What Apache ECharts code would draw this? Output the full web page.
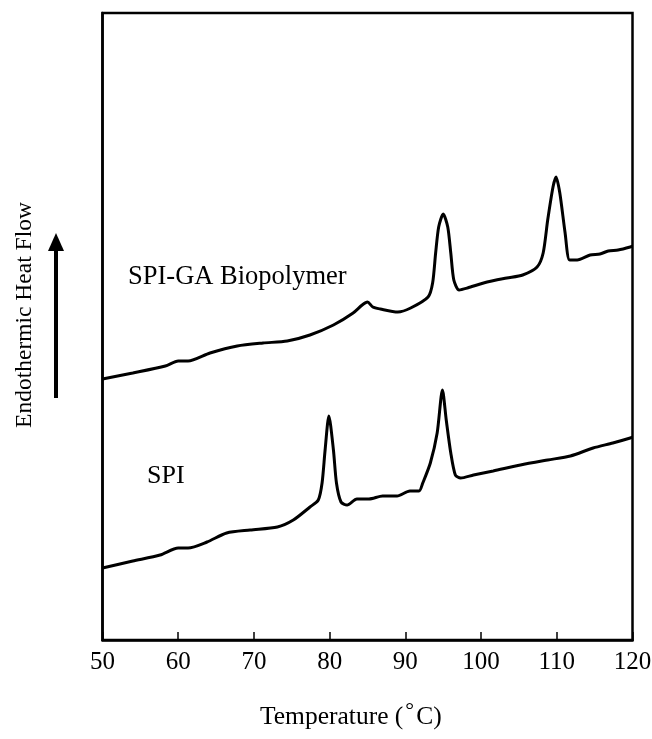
<!DOCTYPE html>
<html>
<head>
<meta charset="utf-8">
<script src="https://cdn.jsdelivr.net/npm/echarts@6/dist/echarts.min.js"></script>
<style>html,body{margin:0;padding:0;background:#fff}#c{width:652px;height:739px}</style>
</head>
<body>
<div id="c"></div>
<script>
// Temperature (°C) tick labels
var xTicks = [50, 60, 70, 80, 90, 100, 110, 120];

// SPI-GA Biopolymer curve: temperature / heat flow (arbitrary units)
var gaTemp = [50, 54.0, 58.3, 60.0, 61.3, 64.2, 67.8, 71.2, 74.4, 77.4, 80.5, 83.1, 84.3, 85.0, 85.7, 86.7, 89.0, 90.7, 93.0, 93.6, 94.0, 94.4, 95.0, 95.6, 96.0, 96.4, 97.1, 98.2, 100.8, 103.4, 105.5, 107.4, 108.2, 108.8, 109.5, 109.9, 110.4, 111.1, 111.7, 112.7, 114.4, 115.7, 116.8, 118.1, 119.7, 120];
var gaFlow = [261, 267, 274, 279, 279, 287, 294, 297, 299, 305, 315, 327, 335, 338, 333, 331, 328, 332, 343, 357, 387, 413, 426, 413, 387, 360, 350, 352, 358, 362, 365, 373, 387, 420, 453, 463, 447, 407, 380, 380, 385, 386, 389, 390, 393, 394];

// SPI curve
var spiTemp = [50, 54.0, 57.6, 60.0, 61.3, 63.8, 66.4, 69.5, 73.1, 75.2, 77.4, 78.5, 79.0, 79.4, 79.9, 80.5, 80.9, 81.5, 82.3, 83.6, 85.2, 87.0, 88.9, 90.6, 91.8, 92.3, 93.3, 94.2, 94.9, 95.4, 96.0, 96.6, 97.3, 99.0, 101.6, 105.2, 108.8, 111.8, 114.8, 117.4, 119.7, 120];
var spiFlow = [72, 79, 85, 92, 92, 98, 107, 110, 113, 120, 133, 140, 157, 190, 224, 190, 157, 138, 135, 141, 141, 144, 144, 149, 149, 157, 177, 207, 250, 220, 187, 165, 162, 165, 169, 175, 180, 184, 192, 197, 202, 203];

function pairs(xs, ys) { return xs.map(function (x, i) { return [x, ys[i]]; }); }

var chart = echarts.init(document.getElementById('c'));
var serif = '"Liberation Serif", "Times New Roman", serif';
chart.setOption({
  animation: false,
  backgroundColor: '#fff',
  grid: { left: 102.5, right: 19.5, top: 13, bottom: 99, show: true, borderColor: '#000', borderWidth: 2.5,
          containLabel: false, outerBoundsMode: 'none' },
  xAxis: {
    type: 'value', min: 50, max: 120, interval: 10,
    axisLine: { show: true, lineStyle: { color: '#000', width: 2.5 } },
    axisTick: { show: true, inside: true, length: 8, lineStyle: { color: '#000', width: 1.5 } },
    axisLabel: { color: '#000', fontFamily: serif, fontSize: 25, margin: 10,
      formatter: function (v) { return xTicks.indexOf(v) >= 0 ? String(v) : ''; } },
    splitLine: { show: false }
  },
  yAxis: {
    type: 'value', min: 0, max: 627,
    axisLine: { show: true, lineStyle: { color: '#000', width: 2.5 } },
    axisTick: { show: false }, axisLabel: { show: false }, splitLine: { show: false }
  },
  series: [
    { name: 'SPI-GA Biopolymer', type: 'line', data: pairs(gaTemp, gaFlow), showSymbol: false,
      smooth: 0.25, lineStyle: { color: '#000', width: 3 } },
    { name: 'SPI', type: 'line', data: pairs(spiTemp, spiFlow), showSymbol: false,
      smooth: 0.25, lineStyle: { color: '#000', width: 3 } }
  ],
  graphic: [
    { type: 'text', left: 128, top: 264, style: { text: 'SPI-GA Biopolymer', font: '26.5px ' + serif, fill: '#000' } },
    { type: 'text', left: 147, top: 463, style: { text: 'SPI', font: '26px ' + serif, fill: '#000' } },
    { type: 'text', left: 260, top: 700, style: {
        text: 'Temperature ({sup|°}C)', font: '25.5px ' + serif, fill: '#000',
        rich: { sup: { fontSize: 22, fontFamily: serif, verticalAlign: 'top', padding: [0, 2, 12, 2], fill: '#000' } } } },
    { type: 'text', x: 25, y: 315, rotation: Math.PI / 2,
      style: { text: 'Endothermic Heat Flow', font: '23.5px ' + serif, fill: '#000', align: 'center', verticalAlign: 'middle' } },
    { type: 'line', shape: { x1: 56, y1: 398, x2: 56, y2: 248 }, style: { stroke: '#000', lineWidth: 4 } },
    { type: 'polygon', shape: { points: [[48, 251], [56, 233], [64, 251]] }, style: { fill: '#000' } }
  ]
});
</script>
</body>
</html>
